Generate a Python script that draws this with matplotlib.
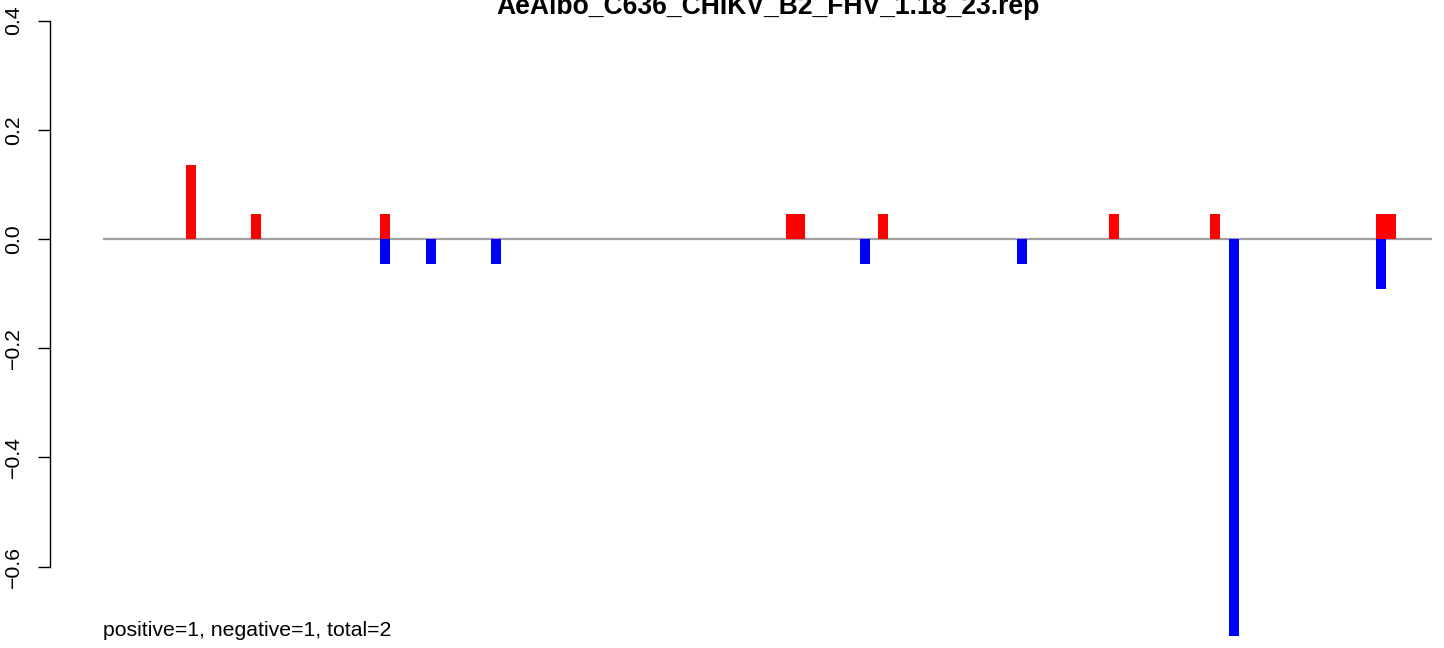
import matplotlib
matplotlib.use("Agg")
import matplotlib.pyplot as plt

plt.rcParams['font.family'] = ['Liberation Sans', 'DejaVu Sans']

title = "AeAlbo_C636_CHIKV_B2_FHV_1.18_23.rep"
note = "positive=1, negative=1, total=2"
genome_len = 3107
read_w = 23

pos_start = [194, 346, 648, 1597, 1618, 1812, 2352, 2588, 2976, 3000]
pos_vals = [0.1364, 0.04545, 0.04545, 0.04545, 0.04545, 0.04545, 0.04545, 0.04545, 0.04545, 0.04545]

neg_start = [648, 755, 907, 1770, 2137, 2632, 2976]
neg_vals = [-0.04545, -0.04545, -0.04545, -0.04545, -0.04545, -0.7273, -0.0909]

yticks = [-0.6, -0.4, -0.2, 0.0, 0.2, 0.4]
ytick_labels = ["\u22120.6", "\u22120.4", "\u22120.2", "0.0", "0.2", "0.4"]

W, H = 1444, 648
fig = plt.figure(figsize=(W / 100, H / 100), dpi=100)
ax = fig.add_axes([50 / W, 0, 1 - 50 / W, 1])

nt_per_px = genome_len / (1432 - 103)
ax.set_xlim(-(103 - 50) * nt_per_px, (W - 103) * nt_per_px)
ax.set_ylim(-(H - 239) / 546, 239 / 546)

ax.plot([0, genome_len], [0, 0], color='#a0a0a0', lw=1.6, zorder=1, solid_capstyle='butt')
ax.bar(pos_start, pos_vals, width=read_w, align='edge', color='#ff0000', lw=0, zorder=2)
ax.bar(neg_start, neg_vals, width=read_w, align='edge', color='#0000ff', lw=0, zorder=2)

for s in ['top', 'right', 'bottom']:
    ax.spines[s].set_visible(False)
ax.spines['left'].set_bounds(-0.6, 0.4)
ax.spines['left'].set_linewidth(1.0)
ax.set_xticks([])
ax.set_yticks(yticks)
ax.set_yticklabels(ytick_labels, rotation=90, va='center', fontsize=15.3)
ax.tick_params(axis='y', length=8.6, width=1.0, pad=11)

ax.text(0, -(631 - 239) / 546, note, fontsize=15.3, ha='left', va='center')
fig.text(768 / W, 1 - 14 / H, title, fontsize=19.1, fontweight='bold', ha='center', va='baseline')

fig.savefig("out.png", dpi=100)
